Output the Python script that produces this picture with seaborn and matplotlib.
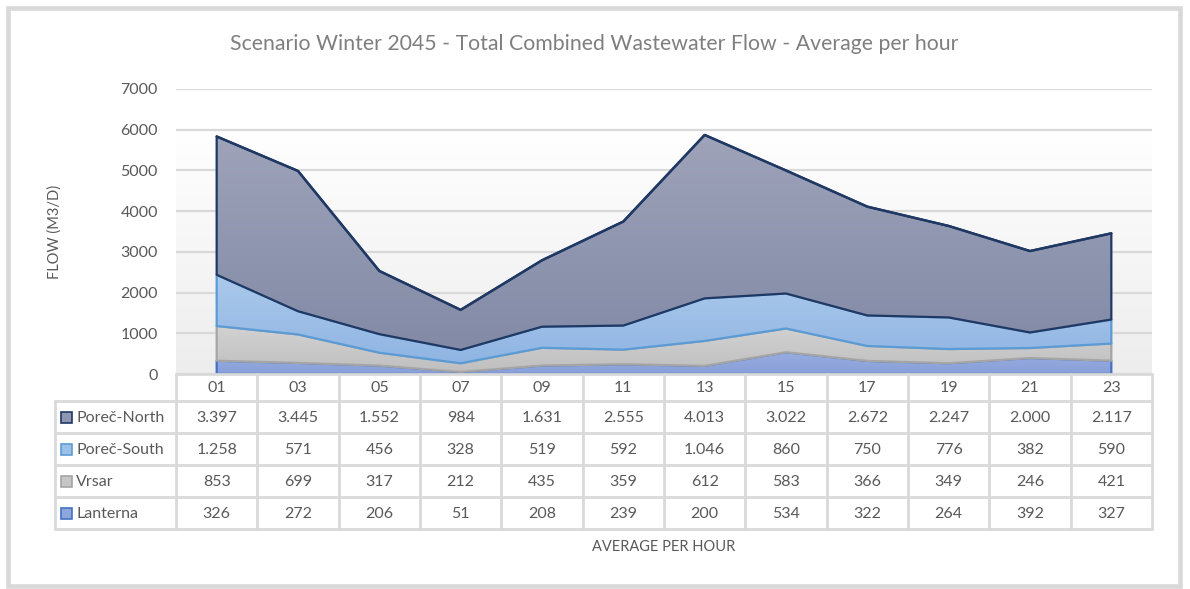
import numpy as np
import pandas as pd
import matplotlib
matplotlib.use("Agg")
import matplotlib.pyplot as plt
import seaborn as sns
from matplotlib.patches import Rectangle
from matplotlib.lines import Line2D
from matplotlib.colors import LinearSegmentedColormap

hours = ["01", "03", "05", "07", "09", "11", "13", "15", "17", "19", "21", "23"]
lanterna = [326, 272, 206, 51, 208, 239, 200, 534, 322, 264, 392, 327]
vrsar = [853, 699, 317, 212, 435, 359, 612, 583, 366, 349, 246, 421]
porec_south = [1258, 571, 456, 328, 519, 592, 1046, 860, 750, 776, 382, 590]
porec_north = [3397, 3445, 1552, 984, 1631, 2555, 4013, 3022, 2672, 2247, 2000, 2117]

series_names = ["Lanterna", "Vrsar", "Poreč-South", "Poreč-North"]
grad_top = ["#98ade0", "#d2d2d2", "#abc9eb", "#9ea3b9"]
grad_bot = ["#889fd8", "#bfbfbf", "#90b5e3", "#828aa6"]
edge_colors = ["#4472c4", "#a5a5a5", "#5b9bd5", "#1f3864"]
key_colors = ["#8ea6dc", "#c6c6c6", "#9dc0e8", "#8f96b1"]

TXT = "#595959"
GRID = "#d9d9d9"

sns.set_theme(style="white")
plt.rcParams["font.family"] = ["Lato", "DejaVu Sans"]

W, H = 1190, 589
fig = plt.figure(figsize=(W / 100, H / 100), dpi=100)
fig.patch.set_facecolor("white")

def fx(x):
    return x / W

def fy(y):
    return 1 - y / H

# outer border
fig.patches.append(Rectangle((fx(8), fy(586)), fx(1172), 578 / H, transform=fig.transFigure,
                             fill=False, edgecolor="#d9d9d9", linewidth=3.3))

L, R, T, B = 176, 1152, 89, 374
ax = fig.add_axes([fx(L), fy(B), fx(R - L), (B - T) / H])
ax.set_facecolor("white")

x = np.arange(len(hours))
x0, x1 = -0.5, len(hours) - 0.5
ax.set_xlim(x0, x1)
ax.set_ylim(0, 7000)

# plot-area background gradient (white at top -> light gray at bottom)
bg_cmap = LinearSegmentedColormap.from_list("bg", ["#ffffff", "#ededed"])
ax.imshow(np.linspace(0, 1, 256).reshape(-1, 1), extent=[x0, x1, 0, 6000], aspect="auto",
          cmap=bg_cmap, origin="upper", zorder=0, vmin=0, vmax=1)

for yv in range(0, 7001, 1000):
    ax.axhline(yv, color=GRID, linewidth=1.6, zorder=1)

data = [lanterna, vrsar, porec_south, porec_north]
polys = ax.stackplot(x, *data, colors=grad_bot, zorder=2)
cum = np.cumsum(np.array(data), axis=0)
for k, (p, ec) in enumerate(zip(polys, edge_colors)):
    p.set_edgecolor(ec)
    p.set_linewidth(1.6)
    lo = 0 if k == 0 else cum[k - 1].min()
    hi = cum[k].max()
    cm = LinearSegmentedColormap.from_list(f"g{k}", [grad_top[k], grad_bot[k]])
    im = ax.imshow(np.linspace(0, 1, 256).reshape(-1, 1), extent=[x0, x1, lo, hi], aspect="auto",
                   cmap=cm, origin="upper", zorder=2.1 + k * 0.2, vmin=0, vmax=1)
    im.set_clip_path(p.get_paths()[0], ax.transData)
    p.set_zorder(2.15 + k * 0.2)
    p.set_facecolor("none")

ax.set_xlim(x0, x1)
ax.set_ylim(0, 7000)

df_top = pd.DataFrame({"x": x, "total": cum[-1]})
sns.lineplot(data=df_top, x="x", y="total", color=edge_colors[3], linewidth=1.8, ax=ax, zorder=4)

ax.set_yticks(range(0, 7001, 1000))
ax.set_yticklabels([str(v) for v in range(0, 7001, 1000)], color=TXT, fontsize=11.5)
ax.tick_params(axis="y", length=0, pad=13)
ax.set_xticks([])
ax.set_xlabel("")
ax.set_ylabel("")
for s in ax.spines.values():
    s.set_visible(False)

# y label
fig.text(fx(55), fy(232), "FLOW (M3/D)", rotation=90, ha="center", va="center",
         color=TXT, fontsize=10.5)

# title
fig.text(fx(594), fy(44), "Scenario Winter 2045 - Total Combined Wastewater Flow - Average per hour",
         ha="center", va="center", color="#7f7f7f", fontsize=15.3)

# data table
col_w = (R - L) / len(hours)
row_edges = [374, 401, 433, 465, 497, 529]
LEFT = 55

def hline(xa, xb, y):
    fig.lines.append(Line2D([fx(xa), fx(xb)], [fy(y), fy(y)], transform=fig.transFigure,
                            color=GRID, linewidth=2))

def vline(xv, ya, yb):
    fig.lines.append(Line2D([fx(xv), fx(xv)], [fy(ya), fy(yb)], transform=fig.transFigure,
                            color=GRID, linewidth=2))

hline(L, R, row_edges[0])
for ye in row_edges[1:]:
    hline(LEFT, R, ye)
for i in range(len(hours) + 1):
    vline(L + i * col_w, row_edges[0], row_edges[-1])
vline(LEFT, row_edges[1], row_edges[-1])

def fmt(v):
    return f"{v:,}".replace(",", ".")

for i, h in enumerate(hours):
    fig.text(fx(L + (i + 0.5) * col_w), fy((row_edges[0] + row_edges[1]) / 2 + 1), h,
             ha="center", va="center", color=TXT, fontsize=11.5)

table_order = [3, 2, 1, 0]
for r, si in enumerate(table_order):
    yc = (row_edges[r + 1] + row_edges[r + 2]) / 2 + 1
    fig.patches.append(Rectangle((fx(61), fy(yc + 5)), fx(11), 11 / H, transform=fig.transFigure,
                                 facecolor=key_colors[si], edgecolor=edge_colors[si], linewidth=1.2))
    fig.text(fx(76), fy(yc), series_names[si], ha="left", va="center", color=TXT, fontsize=11.5)
    for i, v in enumerate(data[si]):
        fig.text(fx(L + (i + 0.5) * col_w), fy(yc), fmt(v), ha="center", va="center",
                 color=TXT, fontsize=11.5)

fig.text(fx(664), fy(547), "AVERAGE PER HOUR", ha="center", va="center", color=TXT, fontsize=10.5)

fig.savefig("out.png", dpi=100, facecolor="white")
